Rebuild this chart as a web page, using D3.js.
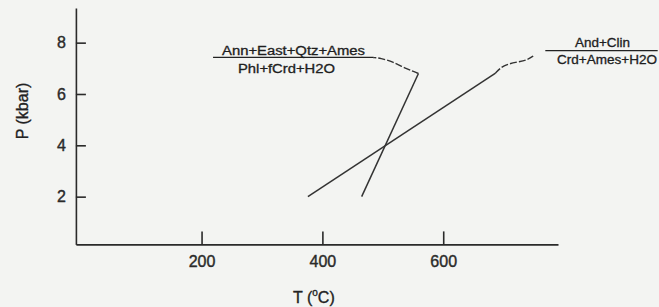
<!DOCTYPE html>
<html>
<head>
<meta charset="utf-8">
<script src="https://cdn.jsdelivr.net/npm/d3@7"></script>
<style>
  html, body { margin: 0; padding: 0; background: #f3f4f2; }
  svg { display: block; font-family: "Liberation Sans", Arial, sans-serif; }
  .axis path, .axis line { stroke: #2a2a2a; stroke-width: 1.6; }
  .axis text { font-size: 16px; fill: #2a2a2a; stroke: #2a2a2a; stroke-width: 0.4; }
  .title { fill: #222; stroke: #222; stroke-width: 0.35; }
  .reaction { fill: none; stroke: #333; stroke-width: 1.5; }
  .leader { fill: none; stroke: #333; stroke-width: 1.4; stroke-dasharray: 7,2; }
  .frac text { font-size: 12px; fill: #1e1e1e; stroke: #1e1e1e; stroke-width: 0.3; }
  .frac line { stroke: #222; stroke-width: 1.2; }
</style>
</head>
<body>
<div id="chart"></div>
<script>
var width = 659,
    height = 307;

// tick values
var tempTicks = [200, 400, 600];
var pressTicks = [2, 4, 6, 8];

// reaction curves, [T (C), P (kbar)]
var reaction1 = [[465, 2.0], [559, 6.8]];
var leader1 = [[559, 6.8], [540, 6.97], [517, 7.25], [496, 7.4], [484, 7.42]];
var reaction2 = [[376, 2.0], [686, 6.8]];
var leader2 = [[686, 6.8], [699, 7.13], [724, 7.25], [739, 7.32], [749, 7.48]];

var labelTop = ["Ann+East+Qtz+Ames", "And+Clin"];
var labelBottom = ["Phl+fCrd+H2O", "Crd+Ames+H2O"];

var x = d3.scaleLinear().domain([-8, 790]).range([75.9, 558]);
var y = d3.scaleLinear().domain([0.14, 9.35]).range([244.4, 8]);

var svg = d3.select("#chart").append("svg")
    .attr("width", width)
    .attr("height", height);

svg.append("g")
    .attr("class", "axis")
    .attr("transform", "translate(0," + y(0.14) + ")")
    .call(d3.axisBottom(x).tickValues(tempTicks).tickSize(-13).tickSizeOuter(0).tickPadding(11))
    .selectAll("text").attr("dy", "0.71em");

svg.append("g")
    .attr("class", "axis")
    .attr("transform", "translate(" + x(-8) + ",0)")
    .call(d3.axisLeft(y).tickValues(pressTicks).tickSize(-10).tickSizeOuter(0).tickPadding(10));

// axis titles
var tt = svg.append("text")
    .attr("class", "title")
    .attr("x", 293)
    .attr("y", 303)
    .attr("font-size", 16);
tt.append("tspan").text("T (");
tt.append("tspan").attr("font-size", 10).attr("dy", -7).text("o");
tt.append("tspan").attr("dy", 7).text("C)");

svg.append("text")
    .attr("class", "title")
    .attr("transform", "translate(28,111)rotate(-90)")
    .attr("text-anchor", "middle")
    .attr("font-size", 16)
    .text("P (kbar)");

var line = d3.line().x(function(d) { return x(d[0]); }).y(function(d) { return y(d[1]); });
var curve = d3.line().curve(d3.curveBasis).x(function(d) { return x(d[0]); }).y(function(d) { return y(d[1]); });

svg.append("path").attr("class", "reaction").attr("d", line(reaction1));
svg.append("path").attr("class", "reaction").attr("d", line(reaction2));
svg.append("path").attr("class", "leader").attr("d", curve(leader1));
svg.append("path").attr("class", "leader").attr("d", curve(leader2));

// fraction labels
var fracs = [
  { t0: 219, t1: 484, p: 7.43, topX: 293.5, botX: 286.5, topW: 143, botW: 97, dyTop: -2.5, dyBot: 15.4 },
  { t0: 769, t1: 955, p: 7.69, topX: 602.5, botX: 607, topW: 55, botW: 100, dyTop: -3.4, dyBot: 13.6 }
];

fracs.forEach(function(f, i) {
  var g = svg.append("g").attr("class", "frac");
  var ly = y(f.p);
  g.append("line")
      .attr("x1", x(f.t0)).attr("x2", x(f.t1))
      .attr("y1", ly).attr("y2", ly);
  g.append("text")
      .attr("x", f.topX).attr("y", ly + f.dyTop)
      .attr("text-anchor", "middle")
      .attr("textLength", f.topW)
      .attr("lengthAdjust", "spacingAndGlyphs")
      .text(labelTop[i]);
  g.append("text")
      .attr("x", f.botX).attr("y", ly + f.dyBot)
      .attr("text-anchor", "middle")
      .attr("textLength", f.botW)
      .attr("lengthAdjust", "spacingAndGlyphs")
      .text(labelBottom[i]);
});
</script>
</body>
</html>
